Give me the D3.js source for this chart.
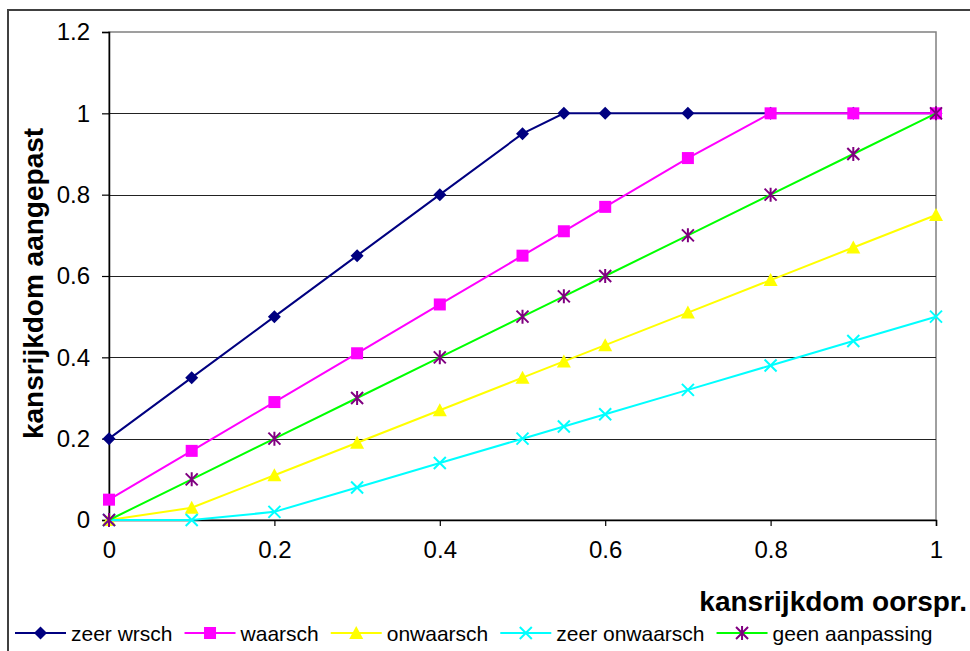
<!DOCTYPE html>
<html>
<head>
<meta charset="utf-8">
<script src="https://cdn.jsdelivr.net/npm/d3@7"></script>
<style>
  html, body { margin: 0; padding: 0; background: #fff; }
  svg { display: block; }
  text { font-family: "Liberation Sans", Arial, sans-serif; }
</style>
</head>
<body>
<svg id="chart" width="970" height="651"></svg>
<script>
// Original probability on the x axis, adjusted probability per scenario
const xValues       = [0, 0.1, 0.2, 0.3, 0.4, 0.5, 0.55, 0.6, 0.7, 0.8, 0.9, 1];
const zeerWrsch     = [0.2, 0.35, 0.5, 0.65, 0.8, 0.95, 1, 1, 1, 1, 1, 1];
const waarsch       = [0.05, 0.17, 0.29, 0.41, 0.53, 0.65, 0.71, 0.77, 0.89, 1, 1, 1];
const onwaarsch     = [0, 0.03, 0.11, 0.19, 0.27, 0.35, 0.39, 0.43, 0.51, 0.59, 0.67, 0.75];
const zeerOnwaarsch = [0, 0, 0.02, 0.08, 0.14, 0.2, 0.23, 0.26, 0.32, 0.38, 0.44, 0.5];
const geenAanpassing = [0, 0.1, 0.2, 0.3, 0.4, 0.5, 0.55, 0.6, 0.7, 0.8, 0.9, 1];

const seriesNames = ["zeer wrsch", "waarsch", "onwaarsch", "zeer onwaarsch", "geen aanpassing"];
const xTicks = [0, 0.2, 0.4, 0.6, 0.8, 1];
const yTicks = [0, 0.2, 0.4, 0.6, 0.8, 1, 1.2];
const xTitle = "kansrijkdom oorspr.";
const yTitle = "kansrijkdom aangepast";

const series = [
  { name: seriesNames[0], values: zeerWrsch,      line: "#000080", marker: "#000080", shape: "diamond" },
  { name: seriesNames[1], values: waarsch,        line: "#FF00FF", marker: "#FF00FF", shape: "square" },
  { name: seriesNames[2], values: onwaarsch,      line: "#FFFF00", marker: "#FFFF00", shape: "triangle" },
  { name: seriesNames[3], values: zeerOnwaarsch,  line: "#00FFFF", marker: "#00FFFF", shape: "cross" },
  { name: seriesNames[4], values: geenAanpassing, line: "#00FF00", marker: "#800080", shape: "star" }
];

const svg = d3.select("#chart");

// Outer chart frame (left and top edges)
svg.append("path")
  .attr("d", "M8,651 L8,10 L970,10")
  .attr("fill", "none")
  .attr("stroke", "#404040")
  .attr("stroke-width", 2);

const x = d3.scaleLinear().domain([0, 1]).range([109, 936]);
const y = d3.scaleLinear().domain([0, 1.2]).range([520, 32]);

// Plot-area border (top/right) and horizontal gridlines
svg.append("rect")
  .attr("x", x(0)).attr("y", y(1.2))
  .attr("width", x(1) - x(0)).attr("height", y(0) - y(1.2))
  .attr("fill", "#fff").attr("stroke", "#808080").attr("stroke-width", 1.5);

svg.append("g").selectAll("line")
  .data(yTicks.filter(t => t > 0 && t < 1.2))
  .join("line")
  .attr("x1", x(0)).attr("x2", x(1))
  .attr("y1", d => Math.round(y(d)) + 0.5).attr("y2", d => Math.round(y(d)) + 0.5)
  .attr("stroke", "#222").attr("stroke-width", 1);

const fmt = d => d3.format("~g")(d);

// Y axis
const yAxis = svg.append("g")
  .attr("transform", `translate(${x(0)},0)`)
  .call(d3.axisLeft(y).tickValues(yTicks).tickFormat(fmt).tickSize(7).tickPadding(12));
// X axis
const xAxis = svg.append("g")
  .attr("transform", `translate(0,${y(0)})`)
  .call(d3.axisBottom(x).tickValues(xTicks).tickFormat(fmt).tickSize(6).tickPadding(25));

[yAxis, xAxis].forEach(g => {
  g.selectAll(".domain").attr("stroke", "#000").attr("stroke-width", 1.5);
  g.selectAll(".tick line").attr("stroke", "#000").attr("stroke-width", 1.2);
  g.selectAll(".tick text")
    .attr("font-family", "'Liberation Sans', Arial, sans-serif")
    .attr("font-size", 24).attr("fill", "#000");
});
xAxis.selectAll(".tick text").attr("dy", "0.3em");

// Axis titles
svg.append("text")
  .attr("transform", `translate(43,${(122 + 445) / 2}) rotate(-90)`)
  .attr("text-anchor", "middle")
  .attr("font-size", 28).attr("font-weight", "bold")
  .text(yTitle);

svg.append("text")
  .attr("x", 967).attr("y", 611)
  .attr("text-anchor", "end")
  .attr("font-size", 28).attr("font-weight", "bold")
  .text(xTitle);

// Marker drawing
function drawMarker(g, shape, color) {
  const s = 6;
  if (shape === "diamond") {
    g.append("path").attr("d", `M0,${-s - 0.5}L${s + 0.5},0L0,${s + 0.5}L${-s - 0.5},0Z`).attr("fill", color);
  } else if (shape === "square") {
    g.append("rect").attr("x", -s).attr("y", -s).attr("width", 2 * s).attr("height", 2 * s).attr("fill", color);
  } else if (shape === "triangle") {
    g.append("path").attr("d", `M0,${-s - 1}L${s + 1},${s}L${-s - 1},${s}Z`).attr("fill", color);
  } else if (shape === "cross") {
    g.append("path").attr("d", `M${-s},${-s}L${s},${s}M${-s},${s}L${s},${-s}`)
      .attr("stroke", color).attr("stroke-width", 2);
  } else if (shape === "star") {
    g.append("path").attr("d", `M${-s},${-s}L${s},${s}M${-s},${s}L${s},${-s}M0,${-s - 1}L0,${s + 1}`)
      .attr("stroke", color).attr("stroke-width", 2);
  }
}

const line = d3.line().x(d => x(d[0])).y(d => y(d[1]));

series.forEach(s => {
  const pts = xValues.map((xv, i) => [xv, s.values[i]]);
  const g = svg.append("g");
  g.append("path")
    .attr("d", line(pts))
    .attr("fill", "none")
    .attr("stroke", s.line)
    .attr("stroke-width", 2);
  pts.forEach(p => {
    const m = g.append("g").attr("transform", `translate(${x(p[0])},${y(p[1])})`);
    drawMarker(m, s.shape, s.marker);
  });
});

// Legend
const legend = svg.append("g").attr("transform", "translate(0,633)");
let cursor = 15;
series.forEach(s => {
  const item = legend.append("g").attr("transform", `translate(${cursor},0)`);
  item.append("line").attr("x1", 0).attr("x2", 51).attr("y1", 0).attr("y2", 0)
    .attr("stroke", s.line).attr("stroke-width", 2);
  drawMarker(item.append("g").attr("transform", "translate(25.5,0)"), s.shape, s.marker);
  const t = item.append("text").attr("x", 56).attr("y", 7.5)
    .attr("font-size", 21).attr("fill", "#000").text(s.name);
  cursor += 56 + t.node().getComputedTextLength() + 12;
});
</script>
</body>
</html>
